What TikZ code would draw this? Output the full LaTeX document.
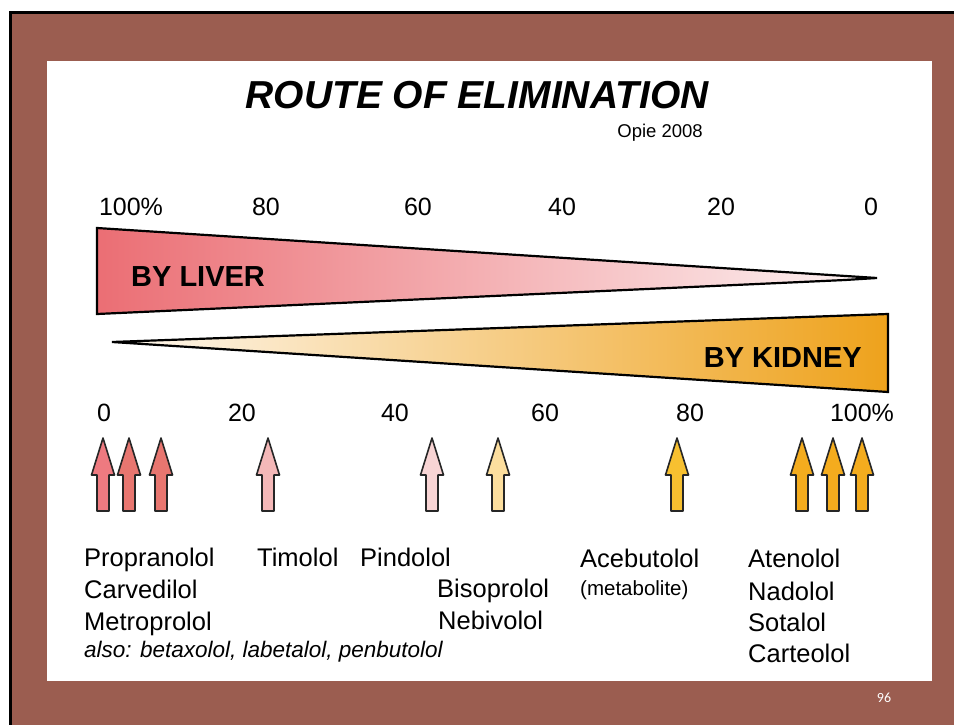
\documentclass[tikz,border=0pt]{standalone}
\usepackage{fontspec}
\setmainfont{Liberation Sans}
\newfontfamily\slidefont{Carlito}
\definecolor{bgbrown}{RGB}{155,93,80}
\definecolor{liverL}{RGB}{235,110,116}
\definecolor{liverR}{RGB}{253,244,244}
\definecolor{kidL}{RGB}{254,248,240}
\definecolor{kidR}{RGB}{238,162,28}
\definecolor{aA}{RGB}{238,122,128}
\definecolor{aB}{RGB}{232,118,112}
\definecolor{aC}{RGB}{244,184,184}
\definecolor{aD}{RGB}{248,212,212}
\definecolor{aE}{RGB}{252,222,158}
\definecolor{aF}{RGB}{247,192,48}
\definecolor{aG}{RGB}{244,172,30}
\newcommand\fsz[1]{\fontsize{#1}{#1}\selectfont}
\newcommand\uparr[2]{\filldraw[arrowst,fill=#2] (#1,438) -- ++(11.5,37) -- ++(-5.5,0) -- ++(0,36) -- ++(-12,0) -- ++(0,-36) -- ++(-5.5,0) -- cycle;}
\tikzset{
  axlbl/.style={anchor=base,inner sep=0pt,font=\fsz{25}},
  drug/.style={anchor=base west,inner sep=0pt,font=\fsz{25.5}},
  wedge/.style={draw=black,line width=2.2pt,line join=miter},
  arrowst/.style={draw=black!85,line width=1.6pt,line join=round},
  bigtxt/.style={inner sep=0pt,font=\bfseries\fsz{29}}
}
\begin{document}
\begin{tikzpicture}[x=1pt,y=-1pt]
\useasboundingbox (0,0) rectangle (954,725);
\fill[white] (0,0) rectangle (954,725);
\fill[black] (9,11) rectangle (954,725);
\fill[bgbrown] (12,14) rectangle (954,725);
\fill[white] (47,61) rectangle (932,681);
% title
\node[anchor=base,inner sep=0pt,font=\bfseries\itshape\fsz{39}] (title) at (477,108) {ROUTE OF ELIMINATION};
\node[anchor=base east,inner sep=0pt,font=\fsz{18.5}] (opie) at (703,137) {Opie 2008};
% top axis
\node[axlbl] (t100) at (131,215) {100\%};
\node[axlbl] (t80) at (266,215) {80};
\node[axlbl] (t60) at (418,215) {60};
\node[axlbl] (t40) at (562,215) {40};
\node[axlbl] (t20) at (721,215) {20};
\node[axlbl] (t0) at (871,215) {0};
% liver wedge
\shade[left color=liverL,right color=liverR] (97,228) -- (877,278) -- (845,280) -- (97,314) -- cycle;
\draw[wedge] (97,228) -- (877,278) -- (845,280) -- (97,314) -- cycle;
\node[bigtxt,anchor=base west] (liver) at (131,286) {BY LIVER};
% kidney wedge
\shade[left color=kidL,right color=kidR] (112,342) -- (888,314) -- (888,392) -- (143,344) -- cycle;
\draw[wedge] (112,342) -- (888,314) -- (888,392) -- (143,344) -- cycle;
\node[bigtxt,anchor=base east] (kidney) at (862,367) {BY KIDNEY};
% bottom axis
\node[axlbl] (b0) at (104,421) {0};
\node[axlbl] (b20) at (242,421) {20};
\node[axlbl] (b40) at (395,421) {40};
\node[axlbl] (b60) at (545,421) {60};
\node[axlbl] (b80) at (690,421) {80};
\node[axlbl] (b100) at (862,421) {100\%};
% arrows
\uparr{103}{aA}
\uparr{129}{aB}
\uparr{161}{aB}
\uparr{268}{aC}
\uparr{432}{aD}
\uparr{498}{aE}
\uparr{677}{aF}
\uparr{802}{aG}
\uparr{833}{aG}
\uparr{862}{aG}
% drug names
\node[drug] (prop) at (84,566) {Propranolol};
\node[drug] (carv) at (84,598) {Carvedilol};
\node[drug] (metr) at (84,630) {Metroprolol};
\node[anchor=base west,inner sep=0pt,font=\itshape\fsz{22.5}] (also) at (84,657) {also: betaxolol, labetalol, penbutolol};
\node[drug] (timo) at (257,566) {Timolol};
\node[drug] (pind) at (360,566) {Pindolol};
\node[drug] (biso) at (437,597) {Bisoprolol};
\node[drug] (nebi) at (438,629) {Nebivolol};
\node[drug] (aceb) at (580,567) {Acebutolol};
\node[anchor=base west,inner sep=0pt,font=\fsz{20.5}] (meta) at (580,595) {(metabolite)};
\node[drug] (aten) at (748,567) {Atenolol};
\node[drug] (nado) at (748,600) {Nadolol};
\node[drug] (sota) at (748,631) {Sotalol};
\node[drug] (cart) at (748,662) {Carteolol};
% page number
\node[inner sep=0pt,text=white,font=\slidefont\fsz{14}] (pg) at (884,698) {96};
\end{tikzpicture}
\end{document}
